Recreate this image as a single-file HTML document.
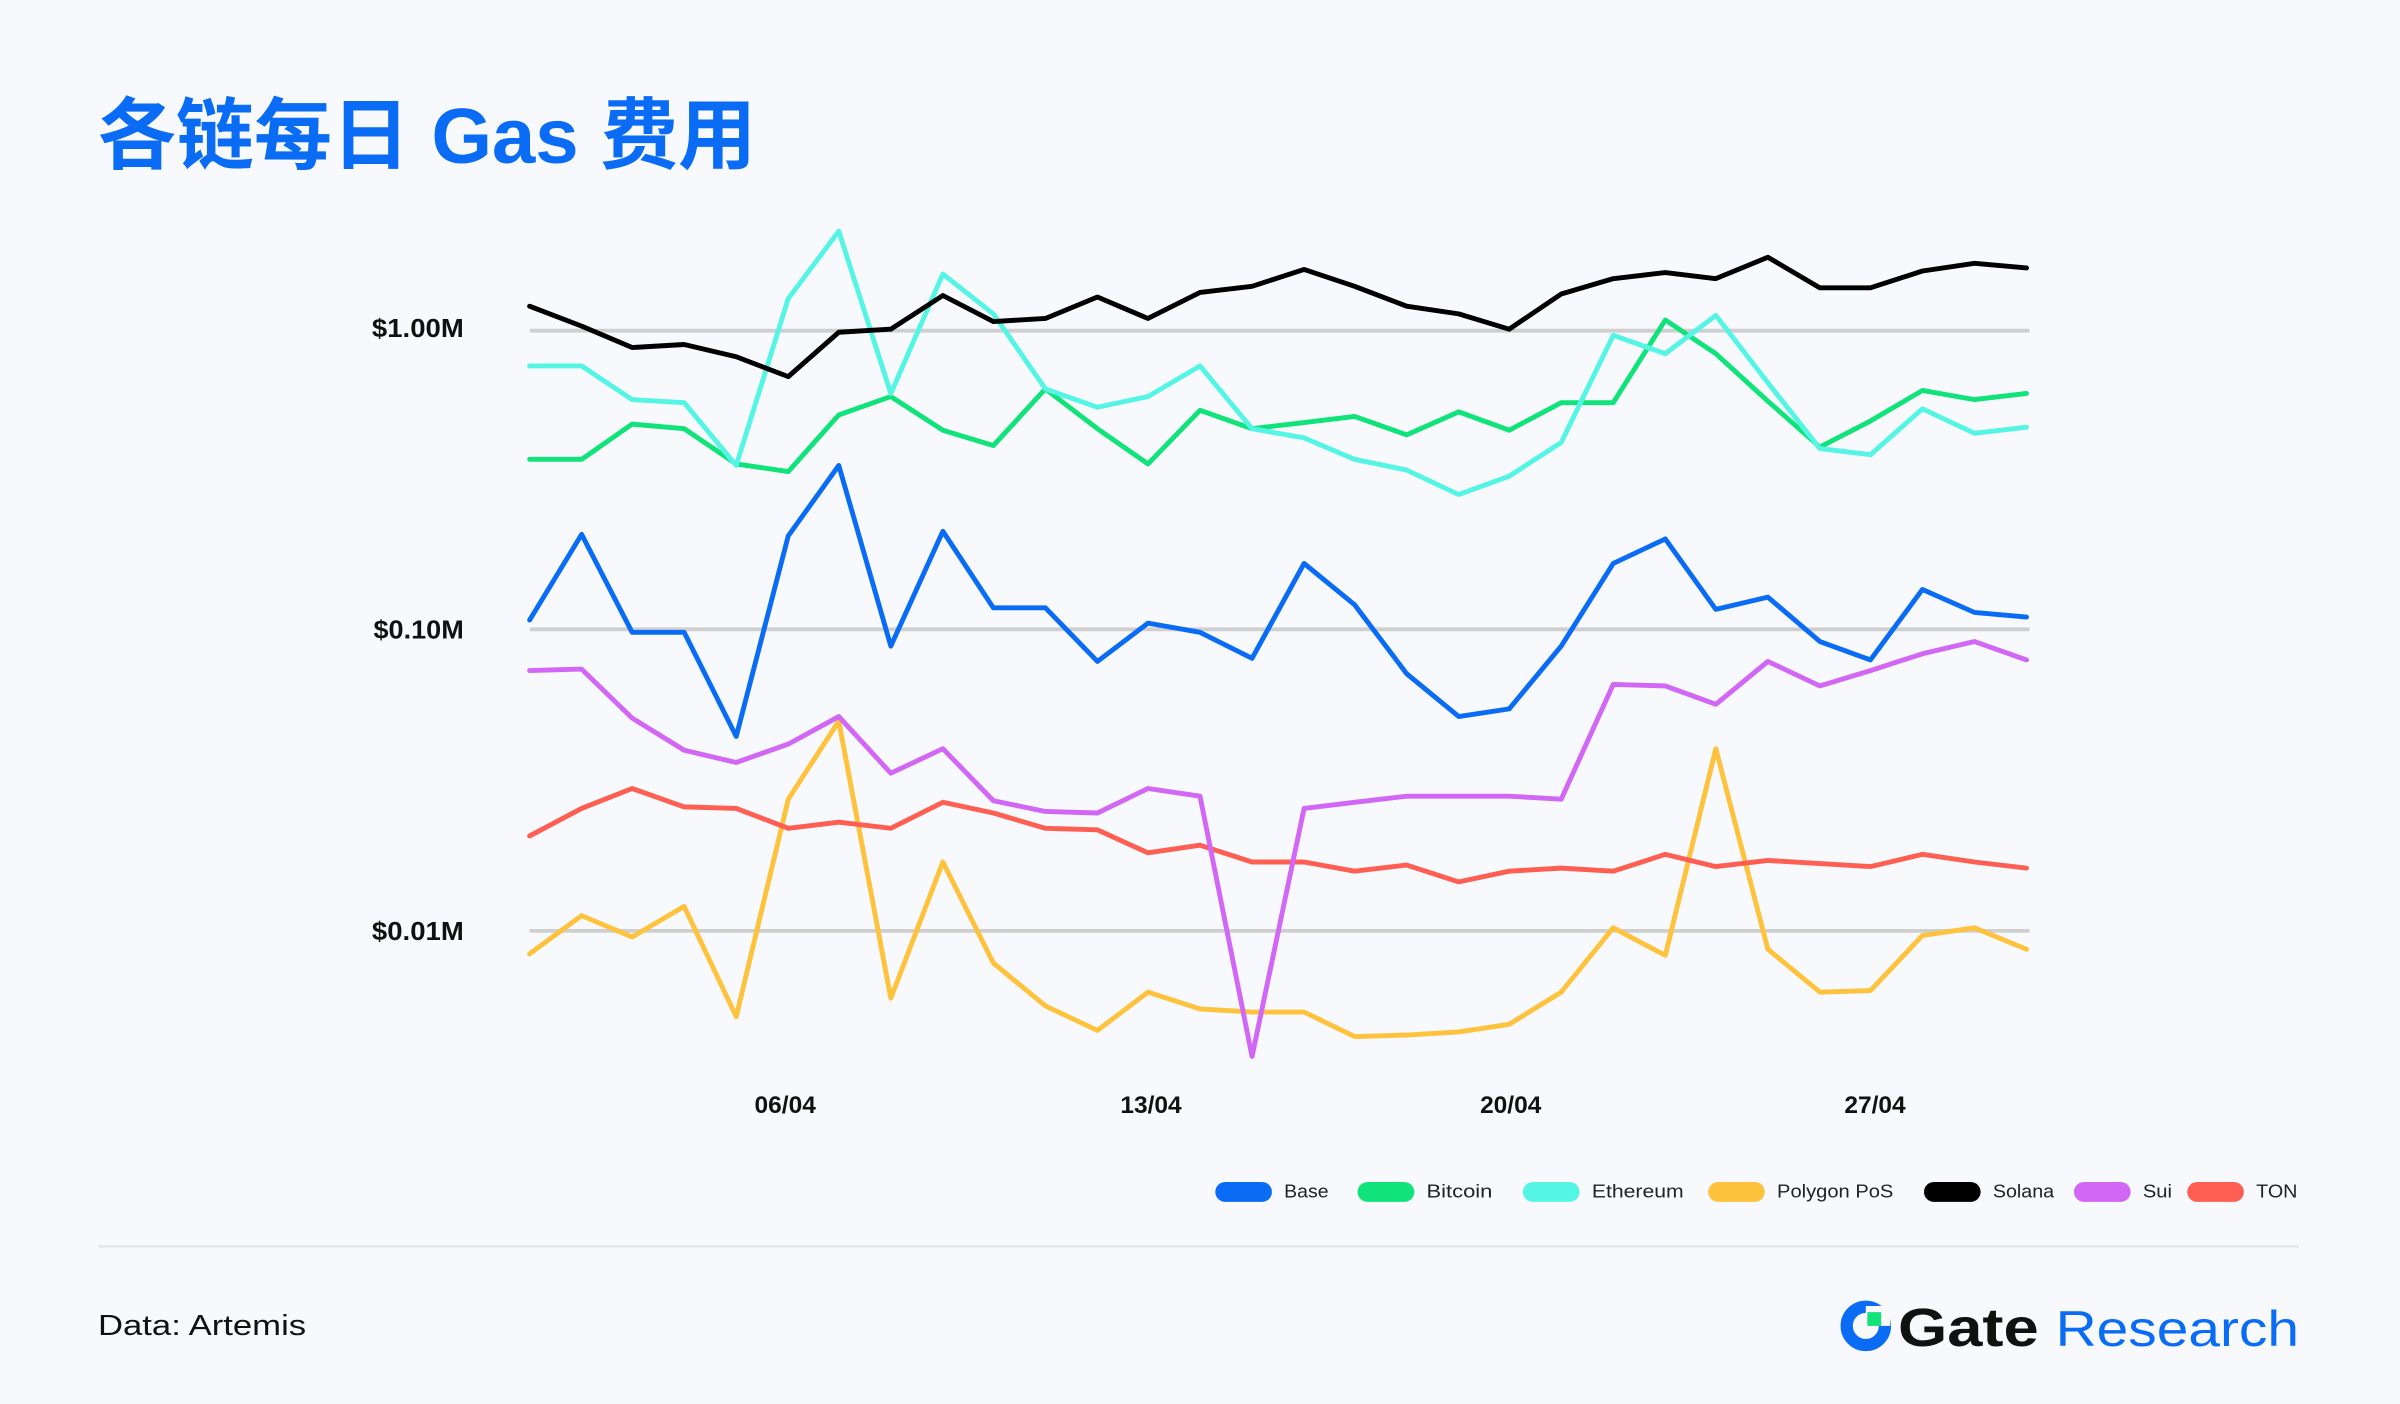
<!DOCTYPE html>
<html><head><meta charset="utf-8"><style>
html,body{margin:0;padding:0;background:#f7f9fc;}
svg{display:block}
text{font-family:"Liberation Sans","Noto Sans CJK SC",sans-serif;}
</style></head><body>
<svg width="2400" height="1404" viewBox="0 0 1568 917" preserveAspectRatio="none" xmlns="http://www.w3.org/2000/svg">
<rect width="1568" height="917" fill="#f7f9fc"/>
<text x="64" y="106" font-size="51" font-weight="bold" fill="#0a6cf5" textLength="430" lengthAdjust="spacing" font-family="'Liberation Sans','Noto Sans CJK SC',sans-serif">各链每日 Gas 费用</text>
<g stroke="#cfcfcf" stroke-width="2.5">
<line x1="346" y1="216" x2="1326" y2="216"/>
<line x1="346" y1="411" x2="1326" y2="411"/>
<line x1="346" y1="608" x2="1326" y2="608"/>
</g>
<g font-size="17" font-weight="bold" fill="#111" text-anchor="end">
<text x="303" y="220" textLength="60" lengthAdjust="spacingAndGlyphs">$1.00M</text>
<text x="303" y="417" textLength="59" lengthAdjust="spacingAndGlyphs">$0.10M</text>
<text x="303" y="614" textLength="60" lengthAdjust="spacingAndGlyphs">$0.01M</text>
</g>
<g font-size="16" font-weight="bold" fill="#111" text-anchor="middle">
<text x="513" y="727">06/04</text>
<text x="752" y="727">13/04</text>
<text x="987" y="727">20/04</text>
<text x="1225" y="727">27/04</text>
</g>
<g fill="none" stroke-width="3.2" stroke-linejoin="round" stroke-linecap="round">
<polyline stroke="#ffc23d" points="346,623 380,598 413,612 447,592 481,664 515,522 548,471 582,652 616,563 649,629 683,657 717,673 750,648 784,659 818,661 852,661 885,677 919,676 953,674 986,669 1020,648 1054,606 1088,624 1121,489 1155,620 1189,648 1222,647 1256,611 1290,606 1324,620"/>
<polyline stroke="#ff5f52" points="346,546 380,528 413,515 447,527 481,528 515,541 548,537 582,541 616,524 649,531 683,541 717,542 750,557 784,552 818,563 852,563 885,569 919,565 953,576 986,569 1020,567 1054,569 1088,558 1121,566 1155,562 1189,564 1222,566 1256,558 1290,563 1324,567"/>
<polyline stroke="#d266f5" points="346,438 380,437 413,469 447,490 481,498 515,486 548,468 582,505 616,489 649,523 683,530 717,531 750,515 784,520 818,690 852,528 885,524 919,520 953,520 986,520 1020,522 1054,447 1088,448 1121,460 1155,432 1189,448 1222,438 1256,427 1290,419 1324,431"/>
<polyline stroke="#0a6cf5" points="346,405 380,349 413,413 447,413 481,481 515,350 548,304 582,422 616,347 649,397 683,397 717,432 750,407 784,413 818,430 852,368 885,395 919,440 953,468 986,463 1020,422 1054,368 1088,352 1121,398 1155,390 1189,419 1222,431 1256,385 1290,400 1324,403"/>
<polyline stroke="#0fe37a" points="346,300 380,300 413,277 447,280 481,303 515,308 548,271 582,259 616,281 649,291 683,254 717,280 750,303 784,268 818,280 852,276 885,272 919,284 953,269 986,281 1020,263 1054,263 1088,209 1121,231 1155,262 1189,292 1222,275 1256,255 1290,261 1324,257"/>
<polyline stroke="#55f5e6" points="346,239 380,239 413,261 447,263 481,304 515,195 548,151 582,257 616,179 649,205 683,254 717,266 750,259 784,239 818,280 852,286 885,300 919,307 953,323 986,311 1020,289 1054,219 1088,231 1121,206 1155,250 1189,293 1222,297 1256,267 1290,283 1324,279"/>
<polyline stroke="#000" points="346,200 380,213 413,227 447,225 481,233 515,246 548,217 582,215 616,193 649,210 683,208 717,194 750,208 784,191 818,187 852,176 885,187 919,200 953,205 986,215 1020,192 1054,182 1088,178 1121,182 1155,168 1189,188 1222,188 1256,177 1290,172 1324,175"/>
</g>
<g font-size="12" fill="#222">
<rect x="794" y="772" width="37" height="13" rx="6.5" fill="#0a6cf5"/><text x="839" y="782" textLength="29" lengthAdjust="spacingAndGlyphs">Base</text>
<rect x="887" y="772" width="37" height="13" rx="6.5" fill="#0fe37a"/><text x="932" y="782" textLength="43" lengthAdjust="spacingAndGlyphs">Bitcoin</text>
<rect x="995" y="772" width="37" height="13" rx="6.5" fill="#55f5e6"/><text x="1040" y="782" textLength="60" lengthAdjust="spacingAndGlyphs">Ethereum</text>
<rect x="1116" y="772" width="37" height="13" rx="6.5" fill="#ffc23d"/><text x="1161" y="782" textLength="76" lengthAdjust="spacingAndGlyphs">Polygon PoS</text>
<rect x="1257" y="772" width="37" height="13" rx="6.5" fill="#000"/><text x="1302" y="782" textLength="40" lengthAdjust="spacingAndGlyphs">Solana</text>
<rect x="1355" y="772" width="37" height="13" rx="6.5" fill="#d266f5"/><text x="1400" y="782" textLength="19" lengthAdjust="spacingAndGlyphs">Sui</text>
<rect x="1429" y="772" width="37" height="13" rx="6.5" fill="#ff5f52"/><text x="1474" y="782" textLength="27" lengthAdjust="spacingAndGlyphs">TON</text>
</g>
<line x1="64" y1="814" x2="1502" y2="814" stroke="#e3e5e8" stroke-width="1.5"/>
<text x="64" y="872" font-size="19" fill="#111" textLength="136" lengthAdjust="spacingAndGlyphs">Data: Artemis</text>
<g>
<circle cx="1219" cy="866" r="12.5" fill="none" stroke="#0a6cf5" stroke-width="8"/>
<rect x="1219" y="853" width="16" height="13" fill="#f7f9fc"/>
<rect x="1220" y="857" width="9" height="9" fill="#0fe37a"/>
<text x="1240" y="879" font-size="35" font-weight="bold" fill="#111" textLength="92" lengthAdjust="spacingAndGlyphs">Gate</text>
<text x="1343" y="879" font-size="33" fill="#0a6cf5" textLength="159" lengthAdjust="spacingAndGlyphs">Research</text>
</g>
</svg>
</body></html>
